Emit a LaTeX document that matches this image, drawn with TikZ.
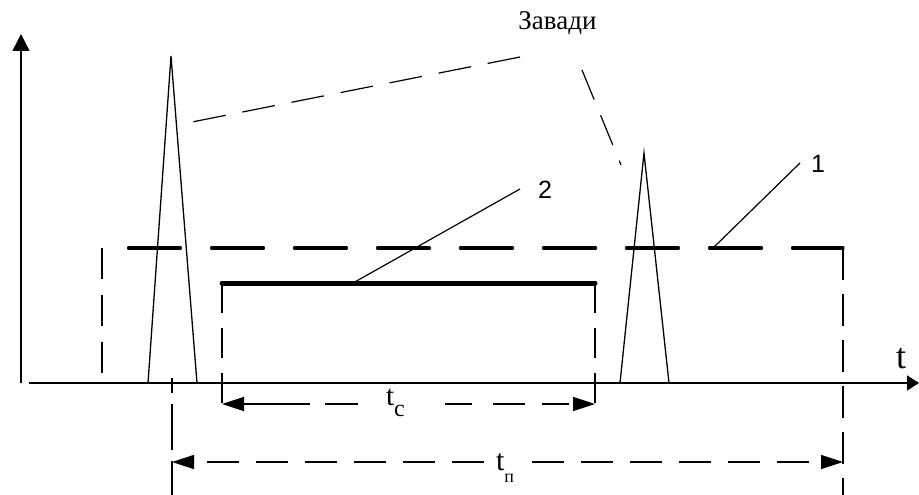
\documentclass[tikz,border=0pt]{standalone}
\usepackage{fontspec}
\setmainfont{Liberation Serif}
\newfontfamily\digitfont{Liberation Sans}
\usetikzlibrary{arrows.meta}
\tikzset{
  axisline/.style={line width=1.5pt},
  spikeline/.style={line width=1.3pt, line join=miter},
  leaderline/.style={line width=1.2pt},
  thindash/.style={line width=1.7pt, dash pattern=on 31pt off 16pt},
  dimdash/.style={line width=1.5pt, dash pattern=on 32pt off 17pt},
  boxtop/.style={line width=3.3pt, line cap=round, dash pattern=on 52pt off 31pt},
  sigline/.style={line width=5pt, line cap=round},
  bigtip/.style={-{Triangle[length=17pt,width=17pt]}},
  dimtip/.style={-{Triangle[length=22pt,width=14pt]}},
  lbl/.style={inner sep=0pt, outer sep=0pt},
  digitlbl/.style={lbl, anchor=base, font=\digitfont\fontsize{25}{25}\selectfont},
}
\begin{document}
\begin{tikzpicture}[x=1pt,y=-1pt]
\useasboundingbox (0,0) rectangle (919,495);
% axes
\coordinate (O) at (21,383);
\coordinate (Ytop) at (21,34);
\coordinate (Xs) at (29,383);
\coordinate (Xe) at (919,383);
\draw[axisline,bigtip] (O) -- (Ytop);
\draw[axisline,-{Triangle[length=12pt,width=15pt]}] (Xs) -- (Xe);
\node[lbl,anchor=base west,font=\fontsize{36}{36}\selectfont] (tlab) at (896,368) {t};
% spikes
\coordinate (s1a) at (148,383); \coordinate (s1p) at (171,56); \coordinate (s1b) at (197,383);
\coordinate (s2a) at (620,383); \coordinate (s2p) at (644,153); \coordinate (s2b) at (669,383);
\draw[spikeline] (s1a) -- (s1p) -- (s1b);
\draw[spikeline] (s2a) -- (s2p) -- (s2b);
% box 1 (dashed)
\coordinate (b1l1) at (102,248); \coordinate (b1l2) at (102,373);
\coordinate (b1t1) at (128.5,248); \coordinate (b1tr) at (843,248);
\coordinate (b1rb) at (843,495);
\draw[thindash] (b1l1) -- (b1l2);
\draw[boxtop] (b1t1) -- (b1tr);
\draw[thindash, dash pattern=on 32pt off 14pt] (b1tr) -- (b1rb);
% signal 2
\coordinate (s2l) at (222,283); \coordinate (s2r) at (595,283);
\coordinate (s2lb) at (222,410); \coordinate (s2rb) at (595,410);
\draw[sigline] (s2l) -- (s2r);
\draw[thindash, dash pattern=on 30pt off 15pt] (s2l) -- (s2lb);
\draw[thindash, dash pattern=on 30pt off 15pt] (s2r) -- (s2rb);
% left vertical for t_p
\coordinate (vp1) at (172,378); \coordinate (vp2) at (172,495);
\draw[thindash, dash pattern=on 46pt off 11pt, dash phase=31pt] (vp1) -- (vp2);
% t_c dimension
\coordinate (tcA) at (222,404); \coordinate (tcB) at (595,404);
\coordinate (tcL) at (358,404); \coordinate (tcR) at (445,404);
\node[lbl,anchor=base west] (tc) at (386,405) {\fontsize{29}{29}\selectfont t\raisebox{-11pt}{\fontsize{24}{24}\selectfont с}};
\draw[dimdash,dimtip,dash pattern=on 33pt off 15pt on 200pt] (tcL) -- (tcA);
\draw[dimdash,dimtip,dash pattern=on 27pt off 21pt on 32pt off 17pt] (tcR) -- (tcB);
% t_p dimension
\coordinate (tpA) at (172,462); \coordinate (tpB) at (843,462);
\coordinate (tpL) at (484,462); \coordinate (tpR) at (532,462);
\node[lbl,anchor=base west] (tp) at (496,470) {\fontsize{30}{30}\selectfont t\raisebox{-12pt}{\fontsize{18}{18}\selectfont п}};
\draw[dimdash,dimtip] (tpL) -- (tpA);
\draw[dimdash,dimtip] (tpR) -- (tpB);
% Zavady label and leaders
\node[lbl,anchor=base,font=\fontsize{27}{27}\selectfont] (zav) at (557.5,30) {Завади};
\coordinate (z1s) at (520,57); \coordinate (z1e) at (192,122);
\coordinate (z2s) at (582,70); \coordinate (z2e) at (621,165);
\draw[leaderline, dash pattern=on 33pt off 17pt] (z1s) -- (z1e);
\draw[leaderline, dash pattern=on 32pt off 17pt] (z2s) -- (z2e);
% label 2
\node[digitlbl] (n2) at (545,198) {2};
\coordinate (n2s) at (520,189); \coordinate (n2e) at (353,283);
\draw[leaderline] (n2s) -- (n2e);
% label 1
\node[digitlbl] (n1) at (818,172) {1};
\coordinate (n1s) at (800,163); \coordinate (n1e) at (712,249);
\draw[leaderline] (n1s) -- (n1e);
\end{tikzpicture}
\end{document}
